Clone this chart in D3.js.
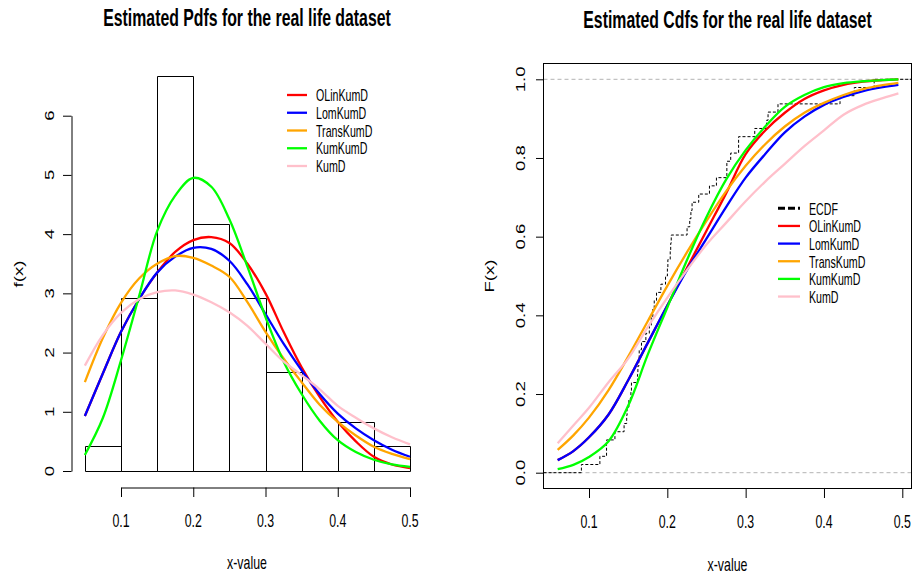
<!DOCTYPE html>
<html><head><meta charset="utf-8">
<script src="https://cdn.jsdelivr.net/npm/d3@7/dist/d3.min.js"></script>
<style>
html,body{margin:0;padding:0;background:#fff;}
text{font-family:"Liberation Sans",Arial,sans-serif;fill:#000;}
</style></head>
<body><svg id="c" width="914" height="578"></svg>
<script>
// ---------------- data ----------------
const seriesNames = ["OLinKumD","LomKumD","TransKumD","KumKumD","KumD"];
const xTicks = [0.1,0.2,0.3,0.4,0.5];
const pdfYTicks = [0,1,2,3,4,5,6];
const cdfYTicks = [0,0.2,0.4,0.6,0.8,1.0];
const histBreaks = [0.05,0.1,0.15,0.2,0.25,0.3,0.35,0.4,0.45,0.5];
const histDensity = [0.42,2.92,6.67,4.17,2.92,1.67,0,0.83,0.42];

const pdfX = [0.05,0.075,0.1,0.125,0.15,0.175,0.2,0.225,0.25,0.275,0.3,0.325,0.35,0.375,0.4,0.425,0.45,0.475,0.5];
const pdfOLinKumD = [0.93,1.65,2.35,2.9,3.35,3.7,3.9,3.95,3.85,3.5,3.0,2.35,1.75,1.25,0.83,0.5,0.24,0.11,0.05];
const pdfLomKumD  = [0.93,1.65,2.35,2.9,3.35,3.62,3.77,3.75,3.55,3.15,2.65,2.15,1.7,1.3,0.97,0.72,0.52,0.36,0.24];
const pdfTransKumD= [1.5,2.25,2.84,3.25,3.5,3.63,3.6,3.47,3.28,2.85,2.35,1.9,1.5,1.12,0.83,0.6,0.41,0.29,0.2];
const pdfKumKumD  = [0.27,0.9,1.87,2.95,4.05,4.65,4.95,4.8,4.25,3.45,2.6,1.85,1.3,0.85,0.52,0.32,0.19,0.11,0.07];
const pdfKumD     = [1.78,2.3,2.67,2.9,3.02,3.05,2.98,2.85,2.68,2.45,2.15,1.85,1.62,1.38,1.1,0.9,0.72,0.57,0.45];

const cdfX = [0.06,0.08,0.1,0.125,0.15,0.175,0.2,0.225,0.25,0.275,0.3,0.325,0.35,0.375,0.4,0.425,0.45,0.475,0.495];
const cdfOLinKumD = [0.032,0.055,0.09,0.148,0.235,0.33,0.425,0.52,0.615,0.71,0.81,0.87,0.915,0.95,0.972,0.986,0.994,0.998,1.0];
const cdfLomKumD  = [0.032,0.055,0.09,0.148,0.235,0.33,0.425,0.515,0.595,0.675,0.75,0.81,0.865,0.905,0.935,0.955,0.97,0.98,0.986];
const cdfTransKumD= [0.058,0.095,0.14,0.21,0.295,0.385,0.475,0.56,0.64,0.715,0.78,0.835,0.88,0.915,0.94,0.96,0.975,0.985,0.991];
const cdfKumKumD  = [0.009,0.02,0.04,0.08,0.17,0.30,0.42,0.54,0.65,0.745,0.82,0.88,0.93,0.96,0.98,0.99,0.995,0.998,1.0];
const cdfKumD     = [0.075,0.12,0.165,0.23,0.29,0.37,0.445,0.515,0.58,0.635,0.69,0.74,0.785,0.83,0.87,0.91,0.935,0.952,0.964];

const sample = [0.0903,0.1139,0.1224,0.1224,0.1331,0.1448,0.1481,0.1486,
  0.1509,0.1535,0.1542,0.1619,0.1624,0.1636,0.1641,0.1670,0.1726,0.1770,0.1795,0.1815,0.1833,0.1862,0.1918,0.1977,
  0.2001,0.2007,0.2037,0.2043,0.2050,0.2252,0.2286,0.2301,0.2316,0.2401,
  0.2538,0.2627,0.2760,0.2760,0.2809,0.2910,0.2910,
  0.3116,0.3266,0.3286,0.3413,
  0.4205,0.4387,0.4641];

// ---------------- styles ----------------
const colors = ["#FF0000","#0000FF","#FFA500","#00FF00","#FFC0CB"];
const SX = 0.665;
const FS = 18.6, FT = 23.8, FL = 16;
const LW = 2.3;

const svg = d3.select("#c");
svg.append("rect").attr("width",914).attr("height",578).attr("fill","#fff");

function txt(g, x, y, s, o={}) {
  return g.append("text")
    .attr("transform", `translate(${x},${y}) scale(${SX},1)` + (o.rot ? ` rotate(${o.rot})` : ""))
    .attr("text-anchor", o.anchor || "middle")
    .style("font-size", (o.size||FS) + "px")
    .style("font-weight", o.weight || "normal")
    .text(s);
}
function styleAxis(g) {
  g.select(".domain").attr("stroke","#000").attr("stroke-width",1);
  g.selectAll(".tick line").attr("stroke","#000").attr("stroke-width",1);
  g.selectAll("text").remove();
}

// ================= LEFT : PDFs =================
const xL = d3.scaleLinear().domain([0.1,0.5]).range([121,410]);
const yL = d3.scaleLinear().domain([0,6]).range([471,115.7]);
const gL = svg.append("g");

// histogram
const bars = histDensity.map((d,i)=>({x0:histBreaks[i],x1:histBreaks[i+1],d}));
gL.selectAll("path.bar").data(bars).enter().append("path")
  .attr("class","bar")
  .attr("d", b => `M${Math.round(xL(b.x0))+0.5},${Math.round(yL(0))+0.5}V${Math.round(yL(b.d))+0.5}H${Math.round(xL(b.x1))+0.5}V${Math.round(yL(0))+0.5}Z`)
  .attr("fill","none").attr("stroke","#000").attr("stroke-width",1);

// curves
const pdfSeries = [pdfOLinKumD,pdfLomKumD,pdfTransKumD,pdfKumKumD,pdfKumD];
const lineL = d3.line().x((d,i)=>xL(pdfX[i])).y(d=>yL(d)).curve(d3.curveCatmullRom.alpha(0.5));
pdfSeries.forEach((s,k)=>{
  gL.append("path").attr("d", lineL(s)).attr("fill","none")
    .attr("stroke",colors[k]).attr("stroke-width",LW);
});

// axes
const axLB = gL.append("g").attr("transform","translate(0,487.5)")
  .call(d3.axisBottom(xL).tickValues(xTicks).tickSize(9.5).tickSizeOuter(0));
styleAxis(axLB);
xTicks.forEach(t=>txt(gL, xL(t), 527, d3.format(".1f")(t)));
const axLL = gL.append("g").attr("transform","translate(71.5,0)")
  .call(d3.axisLeft(yL).tickValues(pdfYTicks).tickSize(8.5).tickSizeOuter(0));
styleAxis(axLL);
pdfYTicks.forEach(t=>txt(gL, 53.5, yL(t), String(t), {rot:-90}));

txt(gL, 247, 569, "x-value");
txt(gL, 23, 274, "f(x)", {rot:-90});
txt(gL, 247, 26, "Estimated Pdfs for the real life dataset", {size:FT, weight:"bold"});

// legend
seriesNames.forEach((n,k)=>{
  const y = 95 + k*17.75;
  gL.append("line").attr("x1",287).attr("x2",307).attr("y1",y).attr("y2",y)
    .attr("stroke",colors[k]).attr("stroke-width",LW);
  txt(gL, 316, y+6, n, {anchor:"start", size:FL});
});

// ================= RIGHT : CDFs =================
const xR = d3.scaleLinear().domain([0.1,0.5]).range([589,902.3]);
const yR = d3.scaleLinear().domain([0,1]).range([472.7,79.3]);
const gR = svg.append("g");
const boxL = 543.5, boxR = 911.5, boxT = 63.5, boxB = 488.5;

// 0/1 gray dashed lines
[0,1].forEach(v=>{
  gR.append("line").attr("x1",boxL).attr("x2",boxR).attr("y1",yR(v)).attr("y2",yR(v))
    .attr("stroke","#B3B3B3").attr("stroke-width",1).attr("stroke-dasharray","4,3");
});

// ECDF
const sorted = sample.slice().sort(d3.ascending);
const n = sorted.length;
const uniq = Array.from(new Set(sorted));
const ecdfPts = [[xR.invert(boxL),0]].concat(
  uniq.map(v=>[v, d3.bisectRight(sorted, v)/n]),
  [[xR.invert(boxR),1]]);
gR.append("path")
  .attr("d", d3.line().x(d=>xR(d[0])).y(d=>yR(d[1])).curve(d3.curveStepAfter)(ecdfPts))
  .attr("fill","none").attr("stroke","#000").attr("stroke-width",1).attr("stroke-dasharray","3,2");

// curves
const cdfSeries = [cdfOLinKumD,cdfLomKumD,cdfTransKumD,cdfKumKumD,cdfKumD];
const lineR = d3.line().x((d,i)=>xR(cdfX[i])).y(d=>yR(d)).curve(d3.curveCatmullRom.alpha(0.5));
cdfSeries.forEach((s,k)=>{
  gR.append("path").attr("d", lineR(s)).attr("fill","none")
    .attr("stroke",colors[k]).attr("stroke-width",LW);
});

// box
gR.append("rect").attr("x",boxL).attr("y",boxT).attr("width",boxR-boxL).attr("height",boxB-boxT)
  .attr("fill","none").attr("stroke","#000").attr("stroke-width",1);

// axes
const axRB = gR.append("g").attr("transform",`translate(0,${boxB})`)
  .call(d3.axisBottom(xR).tickValues(xTicks).tickSize(9.5).tickSizeOuter(0));
styleAxis(axRB); axRB.select(".domain").remove();
xTicks.forEach(t=>txt(gR, xR(t), 528, d3.format(".1f")(t)));
const axRL = gR.append("g").attr("transform",`translate(${boxL},0)`)
  .call(d3.axisLeft(yR).tickValues(cdfYTicks).tickSize(7.5).tickSizeOuter(0));
styleAxis(axRL); axRL.select(".domain").remove();
cdfYTicks.forEach(t=>txt(gR, 525, yR(t), d3.format(".1f")(t), {rot:-90}));

txt(gR, 727.5, 571, "x-value");
txt(gR, 494, 276, "F(x)", {rot:-90});
txt(gR, 727.5, 28, "Estimated Cdfs for the real life dataset", {size:FT, weight:"bold"});

// legend
const legR = ["ECDF"].concat(seriesNames);
legR.forEach((nm,k)=>{
  const y = 208.3 + k*17.65;
  const ln = gR.append("line").attr("x1",778).attr("x2",800).attr("y1",y).attr("y2",y);
  if (k===0) ln.attr("stroke","#000").attr("stroke-width",3).attr("stroke-dasharray","7,3");
  else ln.attr("stroke",colors[k-1]).attr("stroke-width",LW);
  txt(gR, 809, y+6.5, nm, {anchor:"start", size:FL});
});
</script></body></html>
